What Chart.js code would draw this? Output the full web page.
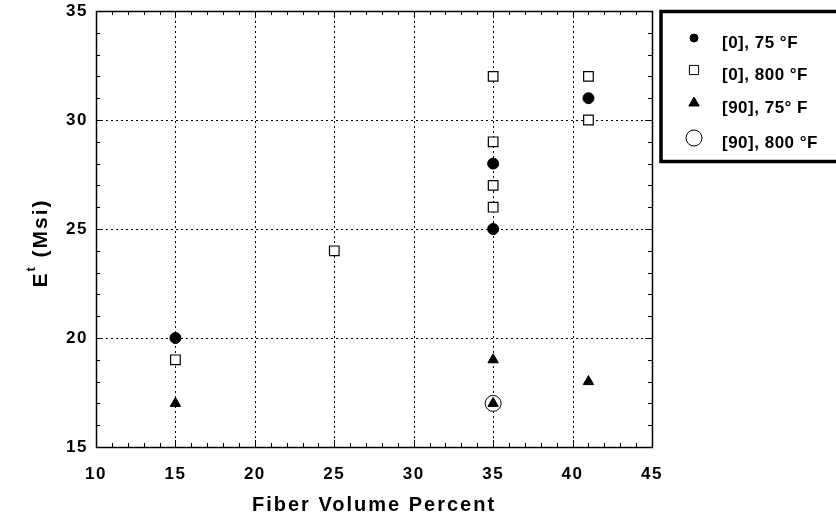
<!DOCTYPE html>
<html>
<head>
<meta charset="utf-8">
<script src="https://cdn.jsdelivr.net/npm/chart.js@4/dist/chart.umd.min.js"></script>
<style>
  html, body { margin: 0; padding: 0; background: #fff; }
  canvas { display: block; }
</style>
</head>
<body>
<canvas id="chart" width="836" height="525"></canvas>
<script>
// values
const xTicks = [10, 15, 20, 25, 30, 35, 40, 45]
const yTicks = [15, 20, 25, 30, 35]

const seriesNames = ["[0], 75 °F", "[0], 800 °F", "[90], 75° F", "[90], 800 °F"]

const deg0at75 = [
  { x: 15, y: 20 }, { x: 35, y: 25 }, { x: 35, y: 28 }, { x: 41, y: 31 }
]
const deg0at800 = [
  { x: 15, y: 19 }, { x: 25, y: 24 }, { x: 35, y: 32 }, { x: 35, y: 29 },
  { x: 35, y: 27 }, { x: 35, y: 26 }, { x: 41, y: 32 }, { x: 41, y: 30 }
]
const deg90at75 = [
  { x: 15, y: 17 }, { x: 35, y: 19 }, { x: 35, y: 17 }, { x: 41, y: 18 }
]
const deg90at800 = [
  { x: 35, y: 17 }
]

const FONT = "'Liberation Sans', Arial, sans-serif"

// frame, inward ticks and dotted grid, like the old plotting package
const framePlugin = {
  id: "frame",
  beforeDraw(chart) {
    chart.ctx.letterSpacing = "1.5px"
  },
  beforeDatasetsDraw(chart) {
    const { ctx, chartArea: a, scales } = chart
    const xs = scales.x, ys = scales.y
    ctx.save()
    ctx.strokeStyle = "#000"
    ctx.lineWidth = 1

    // dotted grid on the major ticks
    ctx.setLineDash([2, 3])
    xTicks.slice(1, -1).forEach(v => {
      const px = Math.round(xs.getPixelForValue(v)) + 0.5
      ctx.beginPath(); ctx.moveTo(px, a.top); ctx.lineTo(px, a.bottom); ctx.stroke()
    })
    yTicks.slice(1, -1).forEach(v => {
      const py = Math.round(ys.getPixelForValue(v)) + 0.5
      ctx.beginPath(); ctx.moveTo(a.left, py); ctx.lineTo(a.right, py); ctx.stroke()
    })
    ctx.setLineDash([])

    // minor and major ticks, pointing in, on all four sides
    ctx.beginPath()
    for (let v = xs.min; v <= xs.max; v++) {
      const len = v % 5 === 0 ? 7 : 4
      const px = Math.round(xs.getPixelForValue(v)) + 0.5
      ctx.moveTo(px, a.bottom); ctx.lineTo(px, a.bottom - len)
      ctx.moveTo(px, a.top); ctx.lineTo(px, a.top + len)
    }
    for (let v = ys.min; v <= ys.max; v++) {
      const len = v % 5 === 0 ? 7 : 4
      const py = Math.round(ys.getPixelForValue(v)) + 0.5
      ctx.moveTo(a.left, py); ctx.lineTo(a.left + len, py)
      ctx.moveTo(a.right, py); ctx.lineTo(a.right - len, py)
    }
    ctx.stroke()

    ctx.lineWidth = 1.5
    ctx.strokeRect(Math.round(a.left) + 0.5, Math.round(a.top) + 0.5,
      Math.round(a.right - a.left), Math.round(a.bottom - a.top))
    ctx.restore()
  },
  afterDraw(chart) {
    const { ctx, chartArea: a } = chart
    ctx.save()
    ctx.fillStyle = "#000"
    ctx.letterSpacing = "2px"

    // x title
    ctx.font = "bold 20px " + FONT
    ctx.textAlign = "center"
    ctx.textBaseline = "middle"
    ctx.fillText("Fiber Volume Percent", (a.left + a.right) / 2, 505)

    // y title with superscript t
    ctx.translate(39, (a.top + a.bottom) / 2 + 14)
    ctx.rotate(-Math.PI / 2)
    ctx.textAlign = "left"
    ctx.textBaseline = "alphabetic"
    ctx.font = "bold 21px " + FONT
    const wE = ctx.measureText("E").width
    ctx.font = "bold 13px " + FONT
    const wT = ctx.measureText("t").width
    ctx.font = "bold 21px " + FONT
    const wRest = ctx.measureText(" (Msi)").width
    let tx = -(wE + wT + wRest) / 2
    ctx.fillText("E", tx, 8); tx += wE
    ctx.font = "bold 13px " + FONT
    ctx.fillText("t", tx, -4); tx += wT
    ctx.font = "bold 21px " + FONT
    ctx.fillText(" (Msi)", tx, 8)
    ctx.restore()

    // legend box
    ctx.save()
    ctx.strokeStyle = "#000"
    ctx.lineWidth = 3.5
    ctx.strokeRect(661, 11.5, 200, 150)
    ctx.font = "bold 17px " + FONT
    ctx.letterSpacing = "0.5px"
    ctx.textBaseline = "middle"
    ctx.textAlign = "left"
    const rowsY = [43, 75, 108, 143]
    chart.data.datasets.forEach((ds, i) => {
      const y = rowsY[i]
      drawMarker(ctx, ds.pointStyle, 694, y - 5, ds.legendRadius, ds.pointBackgroundColor)
      ctx.fillStyle = "#000"
      ctx.fillText(seriesNames[i], 722, y)
    })
    ctx.restore()
  }
}

function drawMarker(ctx, style, x, y, r, fill) {
  ctx.save()
  ctx.lineWidth = 1
  ctx.strokeStyle = "#000"
  ctx.fillStyle = fill
  ctx.beginPath()
  if (style === "circle") {
    ctx.arc(x, y, r, 0, Math.PI * 2)
  } else if (style === "rect") {
    const s = r * Math.SQRT1_2
    ctx.rect(x - s, y - s, 2 * s, 2 * s)
  } else if (style === "triangle") {
    ctx.moveTo(x, y - r)
    ctx.lineTo(x + r * Math.sin(Math.PI * 2 / 3), y - r * Math.cos(Math.PI * 2 / 3))
    ctx.lineTo(x + r * Math.sin(Math.PI * 4 / 3), y - r * Math.cos(Math.PI * 4 / 3))
    ctx.closePath()
  }
  ctx.fill()
  ctx.stroke()
  ctx.restore()
}

const ctx = document.getElementById("chart").getContext("2d")

new Chart(ctx, {
  type: "scatter",
  data: {
    datasets: [
      {
        label: seriesNames[0],
        data: deg0at75,
        pointStyle: "circle",
        pointRadius: 5.5,
        legendRadius: 4,
        pointBackgroundColor: "#000",
        pointBorderColor: "#000",
        pointBorderWidth: 1
      },
      {
        label: seriesNames[1],
        data: deg0at800,
        pointStyle: "rect",
        pointRadius: 6.8,
        legendRadius: 6.5,
        pointBackgroundColor: "#fff",
        pointBorderColor: "#000",
        pointBorderWidth: 1.2
      },
      {
        label: seriesNames[2],
        data: deg90at75,
        pointStyle: "triangle",
        pointRadius: 6,
        legendRadius: 6,
        pointBackgroundColor: "#000",
        pointBorderColor: "#000",
        pointBorderWidth: 1
      },
      {
        label: seriesNames[3],
        data: deg90at800,
        pointStyle: "circle",
        pointRadius: 8,
        legendRadius: 8,
        pointBackgroundColor: "#fff",
        pointBorderColor: "#000",
        pointBorderWidth: 1
      }
    ]
  },
  options: {
    responsive: false,
    animation: false,
    events: [],
    layout: {
      padding: { left: 0, top: 11, right: 184, bottom: 0 }
    },
    plugins: {
      legend: { display: false },
      tooltip: { enabled: false }
    },
    scales: {
      x: {
        type: "linear",
        min: 10,
        max: 45,
        afterFit: scale => {
          scale.height = 78
          scale.paddingLeft = 0
          scale.paddingRight = 0
        },
        afterBuildTicks: scale => { scale.ticks = xTicks.map(v => ({ value: v })) },
        grid: { display: false, drawTicks: false },
        border: { display: false },
        ticks: {
          color: "#000",
          padding: 17,
          font: { family: FONT, size: 17, weight: "bold" }
        }
      },
      y: {
        type: "linear",
        min: 15,
        max: 35,
        afterFit: scale => {
          scale.width = 96
          scale.paddingTop = 0
          scale.paddingBottom = 0
        },
        afterBuildTicks: scale => { scale.ticks = yTicks.map(v => ({ value: v })) },
        grid: { display: false, drawTicks: false },
        border: { display: false },
        ticks: {
          color: "#000",
          padding: 8,
          font: { family: FONT, size: 17, weight: "bold" }
        }
      }
    }
  },
  plugins: [framePlugin]
})
</script>
</body>
</html>
